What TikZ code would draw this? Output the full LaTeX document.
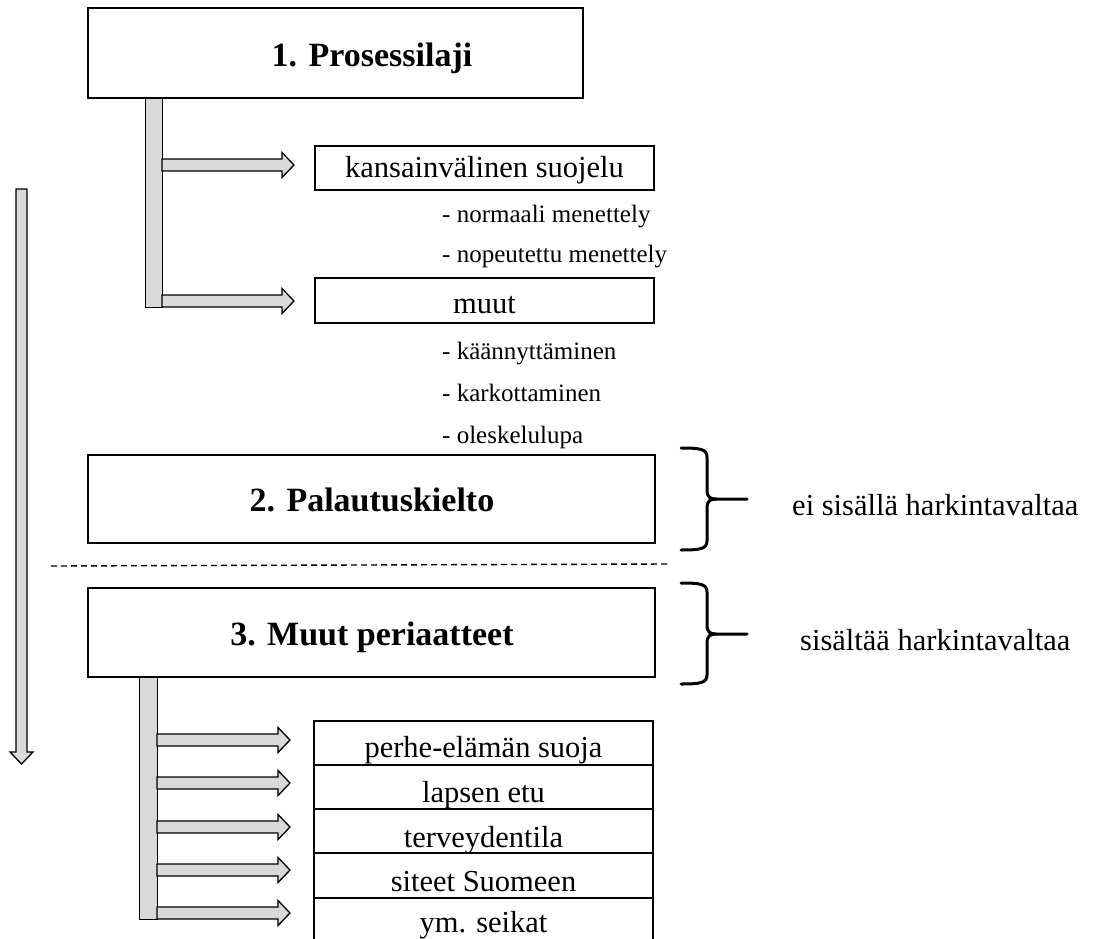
\documentclass[tikz,border=0pt]{standalone}
\usepackage{fontspec}
\setmainfont{Liberation Serif}
\usetikzlibrary{calc}
\definecolor{barfill}{RGB}{217,217,217}
\tikzset{
  box/.style={draw, line width=2pt, inner sep=0pt, fill=white},
  title/.style={font=\fontsize{34}{40}\selectfont\bfseries, inner sep=0pt},
  txt/.style={font=\fontsize{30.5}{36}\selectfont, inner sep=0pt},
  smalltxt/.style={font=\fontsize{25}{30}\selectfont, inner sep=0pt, anchor=base west},
  barstyle/.style={draw, line width=1.3pt, fill=barfill, line join=miter},
  bracestyle/.style={line width=3pt, line cap=round},
  dashline/.style={line width=1.4pt, dash pattern=on 6pt off 4pt},
}
\newcommand{\myblockarrow}[3]{%
  \filldraw[barstyle] (#1,#2-6) -- (#3-12,#2-6) -- (#3-12,#2-12.5) -- (#3,#2) -- (#3-12,#2+12.5) -- (#3-12,#2+6) -- (#1,#2+6) -- cycle;}
\newcommand{\mybrace}[3]{%
  \draw[bracestyle] (681,#1) .. controls (700,#1) and (707,#1+1) .. (707,#1+9) -- (707,#3-9) .. controls (707,#3-2) and (710,#3) .. (716,#3) -- (747,#3);
  \draw[bracestyle] (681,#2) .. controls (700,#2) and (707,#2-1) .. (707,#2-9) -- (707,#3+9) .. controls (707,#3+2) and (710,#3) .. (716,#3);}
\begin{document}
\begin{tikzpicture}[x=1pt,y=-1pt]
\useasboundingbox (0,0) rectangle (1095,939);
% long downward arrow
\filldraw[barstyle] (16,189) -- (27,189) -- (27,752) -- (33,752) -- (21.5,764) -- (10,752) -- (16,752) -- cycle;

% section 1
\node[barstyle, minimum width=17pt, minimum height=209pt, inner sep=0pt, anchor=north west] (bar1) at (145,98) {};
\node[box, minimum width=495pt, minimum height=90pt] (b1) at (335.5,53) {};
\node[title, anchor=base] (t1) at (372,67) {1. Prosessilaji};
\myblockarrow{162}{165}{294}
\myblockarrow{162}{301}{294}
\node[box, minimum width=339pt, minimum height=44pt] (k) at (484.5,168) {};
\node[txt, anchor=base] (kt) at (484.5,177) {kansainvälinen suojelu};
\node[smalltxt] (s1) at (442,222) {- normaali menettely};
\node[smalltxt] (s2) at (442,262) {- nopeutettu menettely};
\node[box, minimum width=339pt, minimum height=45pt] (m) at (484.5,300.5) {};
\node[txt, anchor=base] (mt) at (484.5,313) {muut};
\node[smalltxt] (s3) at (442,359) {- käännyttäminen};
\node[smalltxt] (s4) at (442,401) {- karkottaminen};
\node[smalltxt] (s5) at (442,443) {- oleskelulupa};

% section 2
\node[box, minimum width=567pt, minimum height=88pt] (b2) at (371.5,499) {};
\node[title, anchor=base] (t2) at (372,511) {2. Palautuskielto};
\mybrace{448}{550}{499}
\node[txt, anchor=base west] (r1) at (792,515) {ei sisällä harkintavaltaa};

\coordinate (d1) at (51,566);
\coordinate (d2) at (668,564);
\draw[dashline] (d1) -- (d2);

% section 3
\node[barstyle, minimum width=18pt, minimum height=242pt, inner sep=0pt, anchor=north west] (bar3) at (139,677) {};
\node[box, minimum width=567pt, minimum height=89pt] (b3) at (371.5,632.5) {};
\node[title, anchor=base] (t3) at (372,645) {3. Muut periaatteet};
\mybrace{583}{684}{634}
\node[txt, anchor=base west] (r2) at (800,650) {sisältää harkintavaltaa};

\myblockarrow{157}{740}{290}
\myblockarrow{157}{783}{290}
\myblockarrow{157}{827}{290}
\myblockarrow{157}{870}{290}
\myblockarrow{157}{913}{290}

\node[box, minimum width=339pt, minimum height=44pt] (row1) at (483.5,743) {};
\node[box, minimum width=339pt, minimum height=44pt] (row2) at (483.5,787) {};
\node[box, minimum width=339pt, minimum height=44pt] (row3) at (483.5,831) {};
\node[box, minimum width=339pt, minimum height=45pt] (row4) at (483.5,875.5) {};
\node[box, minimum width=339pt, minimum height=44pt] (row5) at (483.5,920) {};
\node[txt, anchor=base] (rt1) at (483.5,757) {perhe-elämän suoja};
\node[txt, anchor=base] (rt2) at (483.5,802) {lapsen etu};
\node[txt, anchor=base] (rt3) at (483.5,847) {terveydentila};
\node[txt, anchor=base] (rt4) at (483.5,891) {siteet Suomeen};
\node[txt, anchor=base] (rt5) at (483.5,932) {ym. seikat};
\end{tikzpicture}
\end{document}
